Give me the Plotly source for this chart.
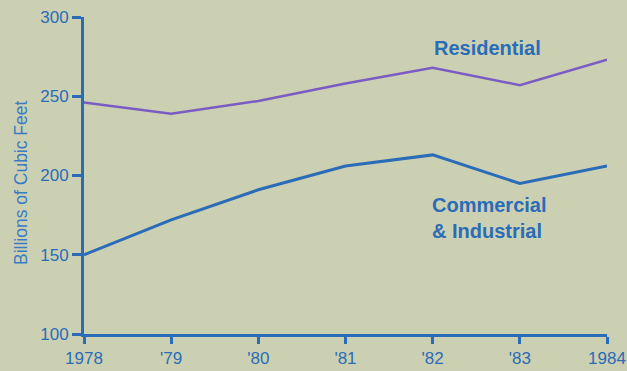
import plotly.graph_objects as go

years = [1978, 1979, 1980, 1981, 1982, 1983, 1984]
tick_labels = ["1978", "'79", "'80", "'81", "'82", "'83", "1984"]
residential = [246, 239, 247, 258, 268, 257, 273]
commercial = [150, 172, 191, 206, 213, 195, 206]
y_ticks = [100, 150, 200, 250, 300]

bg = "#cbd0b2"
blue = "#2a6cb8"
purple = "#7a5cc4"

fig = go.Figure()
fig.add_trace(go.Scatter(x=years, y=residential, mode="lines",
                         line=dict(color=purple, width=2.5), name="Residential"))
fig.add_trace(go.Scatter(x=years, y=commercial, mode="lines",
                         line=dict(color=blue, width=3), name="Commercial & Industrial"))

fig.update_layout(
    width=627, height=371,
    margin=dict(l=84, r=20, t=17, b=37, autoexpand=False),
    paper_bgcolor=bg, plot_bgcolor=bg,
    showlegend=False,
    font=dict(family="Liberation Sans, Arial, sans-serif", color=blue),
    xaxis=dict(range=[1978, 1984], tickvals=years, ticktext=tick_labels,
               showgrid=False, zeroline=False, showline=True, linecolor=blue, linewidth=3,
               ticks="outside", ticklen=7, tickwidth=3, tickcolor=blue,
               tickfont=dict(size=17, color=blue), automargin=False),
    yaxis=dict(range=[100, 300], tickvals=y_ticks, showgrid=False, zeroline=False,
               showline=True, linecolor=blue, linewidth=3,
               ticks="outside", ticklen=9, tickwidth=3, tickcolor=blue,
               tickfont=dict(size=17, color=blue), ticklabelstandoff=0, automargin=False),
)

fig.add_annotation(xref="x domain", yref="y domain", x=(21 - 84) / 523, y=(334 - 183) / 317,
                   text="Billions of Cubic Feet", showarrow=False, textangle=-90,
                   font=dict(size=17.5, color="#3a7cc4"), xanchor="center", yanchor="middle")

fig.add_annotation(x=1982.63, y=280.5, text="<b>Residential</b>", showarrow=False,
                   font=dict(size=20, color=blue), xanchor="center", yanchor="middle")
fig.add_annotation(x=1982.0, y=173.5, xshift=-3, text="<b>Commercial<br>& Industrial</b>",
                   showarrow=False, font=dict(size=20, color=blue),
                   xanchor="left", yanchor="middle", align="left")

fig.write_html("out.html", config={"displayModeBar": False})

with open("out.html", "r", encoding="utf-8") as f:
    html = f.read()
html = html.replace("<body>", '<body style="margin:0;padding:0;overflow:hidden">', 1)
with open("out.html", "w", encoding="utf-8") as f:
    f.write(html)
